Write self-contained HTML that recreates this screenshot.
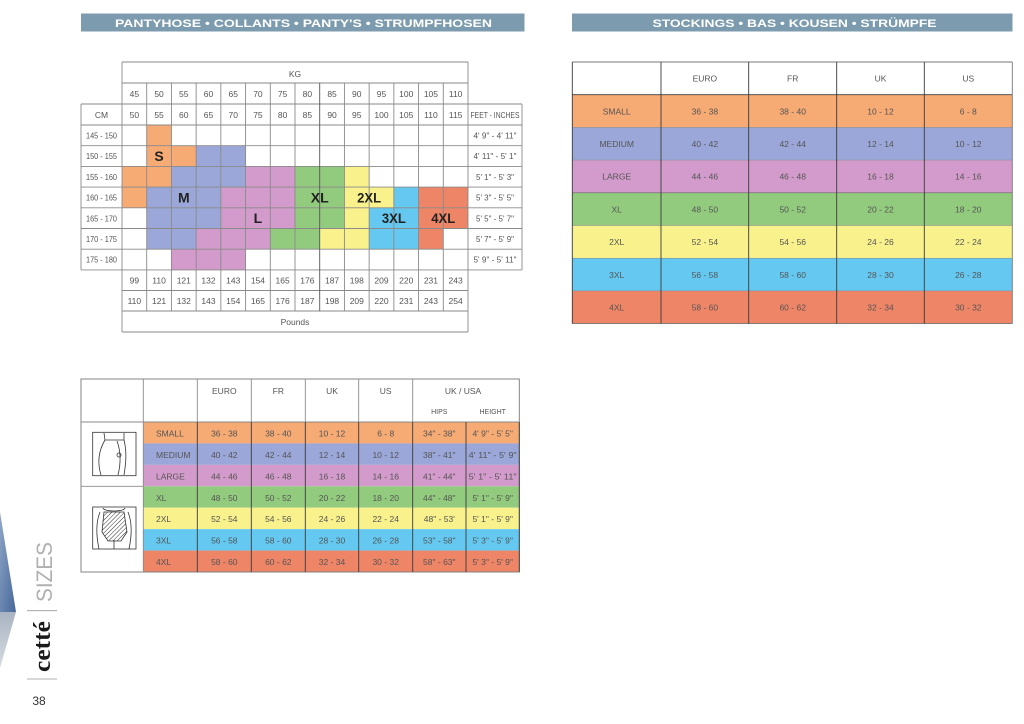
<!DOCTYPE html>
<html><head><meta charset="utf-8"><style>
html,body{margin:0;padding:0;background:#fff;}
svg{display:block;}
text{font-family:"Liberation Sans Narrow","Liberation Sans",sans-serif;fill:#555;font-size:8.5px;}
.c{text-anchor:middle;}
.hd{font-family:"Liberation Sans",sans-serif;font-weight:bold;fill:#fff;font-size:11px;text-anchor:middle;}
.big{font-family:"Liberation Sans Narrow","Liberation Sans",sans-serif;font-weight:bold;fill:#222;font-size:14px;text-anchor:middle;}
.g line{stroke:#8a8a8a;stroke-width:0.9;}
.d line{stroke:#3a3a3a;stroke-width:0.9;}
</style></head><body>
<svg width="1024" height="724" viewBox="0 0 1024 724" xmlns="http://www.w3.org/2000/svg">
<defs>
<linearGradient id="bl" x1="0" y1="0" x2="1" y2="1"><stop offset="0" stop-color="#8fa6c6"/><stop offset="1" stop-color="#46679a"/></linearGradient>
<linearGradient id="gr" x1="0" y1="0" x2="0" y2="1"><stop offset="0" stop-color="#a9b4c2"/><stop offset="1" stop-color="#d6dbe2"/></linearGradient>
<pattern id="hatch" width="3" height="3" patternUnits="userSpaceOnUse" patternTransform="rotate(45)"><line x1="0" y1="0" x2="0" y2="3" stroke="#333" stroke-width="1"/></pattern>
</defs>

<rect x="81" y="13.5" width="443.5" height="18" fill="#7C9BAE"/>
<text class="hd" x="303.5" y="27" textLength="377" lengthAdjust="spacingAndGlyphs">PANTYHOSE • COLLANTS • PANTY'S  • STRUMPFHOSEN</text>
<rect x="572" y="13.5" width="440.5" height="18" fill="#7C9BAE"/>
<text class="hd" x="794.5" y="27" textLength="284" lengthAdjust="spacingAndGlyphs">STOCKINGS • BAS • KOUSEN • STRÜMPFE</text>

<g>
<rect x="146.71" y="125" width="24.71" height="20.7" fill="#F6AA74"/>
<rect x="146.71" y="145.7" width="49.43" height="20.7" fill="#F6AA74"/>
<rect x="196.14" y="145.7" width="49.43" height="20.7" fill="#9AA7D8"/>
<rect x="122" y="166.4" width="49.43" height="20.7" fill="#F6AA74"/>
<rect x="171.43" y="166.4" width="74.14" height="20.7" fill="#9AA7D8"/>
<rect x="245.57" y="166.4" width="49.43" height="20.7" fill="#D39BCB"/>
<rect x="295" y="166.4" width="49.43" height="20.7" fill="#93CB7E"/>
<rect x="344.43" y="166.4" width="24.71" height="20.7" fill="#F8F18C"/>
<rect x="122" y="187.1" width="24.71" height="20.7" fill="#F6AA74"/>
<rect x="146.71" y="187.1" width="74.14" height="20.7" fill="#9AA7D8"/>
<rect x="220.86" y="187.1" width="74.14" height="20.7" fill="#D39BCB"/>
<rect x="295" y="187.1" width="49.43" height="20.7" fill="#93CB7E"/>
<rect x="344.43" y="187.1" width="49.43" height="20.7" fill="#F8F18C"/>
<rect x="393.86" y="187.1" width="24.71" height="20.7" fill="#64C8F0"/>
<rect x="418.57" y="187.1" width="49.43" height="20.7" fill="#EE8567"/>
<rect x="146.71" y="207.8" width="74.14" height="20.7" fill="#9AA7D8"/>
<rect x="220.86" y="207.8" width="74.14" height="20.7" fill="#D39BCB"/>
<rect x="295" y="207.8" width="49.43" height="20.7" fill="#93CB7E"/>
<rect x="344.43" y="207.8" width="24.71" height="20.7" fill="#F8F18C"/>
<rect x="369.14" y="207.8" width="49.43" height="20.7" fill="#64C8F0"/>
<rect x="418.57" y="207.8" width="49.43" height="20.7" fill="#EE8567"/>
<rect x="146.71" y="228.5" width="49.43" height="20.7" fill="#9AA7D8"/>
<rect x="196.14" y="228.5" width="74.14" height="20.7" fill="#D39BCB"/>
<rect x="270.29" y="228.5" width="49.43" height="20.7" fill="#93CB7E"/>
<rect x="319.71" y="228.5" width="49.43" height="20.7" fill="#F8F18C"/>
<rect x="369.14" y="228.5" width="49.43" height="20.7" fill="#64C8F0"/>
<rect x="418.57" y="228.5" width="24.71" height="20.7" fill="#EE8567"/>
<rect x="171.43" y="249.2" width="74.14" height="20.7" fill="#D39BCB"/>
</g>

<g class="g">
<line x1="122" y1="62" x2="468" y2="62"/>
<line x1="122" y1="83" x2="468" y2="83"/>
<line x1="81" y1="104" x2="522" y2="104"/>
<line x1="81" y1="125" x2="522" y2="125"/>
<line x1="81" y1="145.7" x2="522" y2="145.7"/>
<line x1="81" y1="166.4" x2="522" y2="166.4"/>
<line x1="81" y1="187.1" x2="522" y2="187.1"/>
<line x1="81" y1="207.8" x2="522" y2="207.8"/>
<line x1="81" y1="228.5" x2="522" y2="228.5"/>
<line x1="81" y1="249.2" x2="522" y2="249.2"/>
<line x1="81" y1="269.9" x2="522" y2="269.9"/>
<line x1="122" y1="290.5" x2="468" y2="290.5"/>
<line x1="122" y1="311" x2="468" y2="311"/>
<line x1="122" y1="332" x2="468" y2="332"/>
<line x1="81" y1="104" x2="81" y2="269.9"/>
<line x1="522" y1="104" x2="522" y2="269.9"/>
<line x1="122" y1="62" x2="122" y2="332"/>
<line x1="468" y1="62" x2="468" y2="332"/>
<line x1="146.71" y1="83" x2="146.71" y2="311"/>
<line x1="171.43" y1="83" x2="171.43" y2="311"/>
<line x1="196.14" y1="83" x2="196.14" y2="311"/>
<line x1="220.86" y1="83" x2="220.86" y2="311"/>
<line x1="245.57" y1="83" x2="245.57" y2="311"/>
<line x1="270.29" y1="83" x2="270.29" y2="311"/>
<line x1="295" y1="83" x2="295" y2="311"/>
<line x1="319.71" y1="83" x2="319.71" y2="311" style="stroke:#555"/>
<line x1="344.43" y1="83" x2="344.43" y2="311"/>
<line x1="369.14" y1="83" x2="369.14" y2="311"/>
<line x1="393.86" y1="83" x2="393.86" y2="311"/>
<line x1="418.57" y1="83" x2="418.57" y2="311"/>
<line x1="443.29" y1="83" x2="443.29" y2="311"/>
</g>

<g>
<text class="c" x="295" y="77">KG</text>
<text class="c" x="134.36" y="97">45</text><text class="c" x="159.07" y="97">50</text><text class="c" x="183.79" y="97">55</text><text class="c" x="208.5" y="97">60</text><text class="c" x="233.21" y="97">65</text><text class="c" x="257.93" y="97">70</text><text class="c" x="282.64" y="97">75</text><text class="c" x="307.36" y="97">80</text><text class="c" x="332.07" y="97">85</text><text class="c" x="356.79" y="97">90</text><text class="c" x="381.5" y="97">95</text><text class="c" x="406.21" y="97">100</text><text class="c" x="430.93" y="97">105</text><text class="c" x="455.64" y="97">110</text>
<text class="c" x="101.5" y="118">CM</text>
<text class="c" x="134.36" y="118">50</text><text class="c" x="159.07" y="118">55</text><text class="c" x="183.79" y="118">60</text><text class="c" x="208.5" y="118">65</text><text class="c" x="233.21" y="118">70</text><text class="c" x="257.93" y="118">75</text><text class="c" x="282.64" y="118">80</text><text class="c" x="307.36" y="118">85</text><text class="c" x="332.07" y="118">90</text><text class="c" x="356.79" y="118">95</text><text class="c" x="381.5" y="118">100</text><text class="c" x="406.21" y="118">105</text><text class="c" x="430.93" y="118">110</text><text class="c" x="455.64" y="118">115</text>
<text class="c" x="495" y="118" textLength="49" lengthAdjust="spacingAndGlyphs">FEET - INCHES</text>

<text class="c" x="101.5" y="138.5" textLength="31" lengthAdjust="spacingAndGlyphs">145 - 150</text>
<text class="c" x="101.5" y="159.2" textLength="31" lengthAdjust="spacingAndGlyphs">150 - 155</text>
<text class="c" x="101.5" y="179.9" textLength="31" lengthAdjust="spacingAndGlyphs">155 - 160</text>
<text class="c" x="101.5" y="200.6" textLength="31" lengthAdjust="spacingAndGlyphs">160 - 165</text>
<text class="c" x="101.5" y="221.3" textLength="31" lengthAdjust="spacingAndGlyphs">165 - 170</text>
<text class="c" x="101.5" y="242" textLength="31" lengthAdjust="spacingAndGlyphs">170 - 175</text>
<text class="c" x="101.5" y="262.7" textLength="31" lengthAdjust="spacingAndGlyphs">175 - 180</text>

<text class="c" x="495" y="138.5" textLength="43" lengthAdjust="spacingAndGlyphs">4' 9" - 4' 11"</text>
<text class="c" x="495" y="159.2" textLength="43" lengthAdjust="spacingAndGlyphs">4' 11" - 5' 1"</text>
<text class="c" x="495" y="179.9" textLength="38" lengthAdjust="spacingAndGlyphs">5' 1" - 5' 3"</text>
<text class="c" x="495" y="200.6" textLength="38" lengthAdjust="spacingAndGlyphs">5' 3" - 5' 5"</text>
<text class="c" x="495" y="221.3" textLength="38" lengthAdjust="spacingAndGlyphs">5' 5" - 5' 7"</text>
<text class="c" x="495" y="242" textLength="38" lengthAdjust="spacingAndGlyphs">5' 7" - 5' 9"</text>
<text class="c" x="495" y="262.7" textLength="43" lengthAdjust="spacingAndGlyphs">5' 9" - 5' 11"</text>

<text class="c" x="134.36" y="283.5">99</text><text class="c" x="159.07" y="283.5">110</text><text class="c" x="183.79" y="283.5">121</text><text class="c" x="208.5" y="283.5">132</text><text class="c" x="233.21" y="283.5">143</text><text class="c" x="257.93" y="283.5">154</text><text class="c" x="282.64" y="283.5">165</text><text class="c" x="307.36" y="283.5">176</text><text class="c" x="332.07" y="283.5">187</text><text class="c" x="356.79" y="283.5">198</text><text class="c" x="381.5" y="283.5">209</text><text class="c" x="406.21" y="283.5">220</text><text class="c" x="430.93" y="283.5">231</text><text class="c" x="455.64" y="283.5">243</text>
<text class="c" x="134.36" y="304">110</text><text class="c" x="159.07" y="304">121</text><text class="c" x="183.79" y="304">132</text><text class="c" x="208.5" y="304">143</text><text class="c" x="233.21" y="304">154</text><text class="c" x="257.93" y="304">165</text><text class="c" x="282.64" y="304">176</text><text class="c" x="307.36" y="304">187</text><text class="c" x="332.07" y="304">198</text><text class="c" x="356.79" y="304">209</text><text class="c" x="381.5" y="304">220</text><text class="c" x="406.21" y="304">231</text><text class="c" x="430.93" y="304">243</text><text class="c" x="455.64" y="304">254</text>
<text class="c" x="295" y="325">Pounds</text>
</g>

<text class="big" x="159.07" y="161">S</text>
<text class="big" x="183.79" y="202.5">M</text>
<text class="big" x="319.71" y="202.5">XL</text>
<text class="big" x="369.14" y="202.5" textLength="24" lengthAdjust="spacingAndGlyphs">2XL</text>
<text class="big" x="257.93" y="223">L</text>
<text class="big" x="393.86" y="223" textLength="24" lengthAdjust="spacingAndGlyphs">3XL</text>
<text class="big" x="443.29" y="223" textLength="24" lengthAdjust="spacingAndGlyphs">4XL</text>

<g>
<rect x="143.3" y="422" width="376" height="21.43" fill="#F6AA74"/>
<rect x="143.3" y="443.43" width="376" height="21.43" fill="#9AA7D8"/>
<rect x="143.3" y="464.86" width="376" height="21.43" fill="#D39BCB"/>
<rect x="143.3" y="486.29" width="376" height="21.43" fill="#93CB7E"/>
<rect x="143.3" y="507.71" width="376" height="21.43" fill="#F8F18C"/>
<rect x="143.3" y="529.14" width="376" height="21.43" fill="#64C8F0"/>
<rect x="143.3" y="550.57" width="376" height="21.43" fill="#EE8567"/>
</g>
<g class="g">
<rect x="81" y="379" width="438.3" height="193" fill="none" stroke="#777" stroke-width="0.9"/>
<line x1="81" y1="422" x2="519.3" y2="422"/>
<line x1="81" y1="486.29" x2="143.3" y2="486.29"/>
<line x1="143.3" y1="379" x2="143.3" y2="572"/>
<line x1="197.3" y1="379" x2="197.3" y2="422"/>
<line x1="251.3" y1="379" x2="251.3" y2="422"/>
<line x1="305.3" y1="379" x2="305.3" y2="422"/>
<line x1="358.7" y1="379" x2="358.7" y2="422"/>
<line x1="412.7" y1="379" x2="412.7" y2="422"/>
</g>
<g class="d">
<line x1="197.3" y1="422" x2="197.3" y2="572"/>
<line x1="251.3" y1="422" x2="251.3" y2="572"/>
<line x1="305.3" y1="422" x2="305.3" y2="572"/>
<line x1="358.7" y1="422" x2="358.7" y2="572"/>
<line x1="412.7" y1="422" x2="412.7" y2="572"/>
<line x1="466" y1="422" x2="466" y2="572"/>
<line x1="519.3" y1="422" x2="519.3" y2="572"/>
</g>
<g>
<text class="c" x="224.3" y="394">EURO</text>
<text class="c" x="278.3" y="394">FR</text>
<text class="c" x="332" y="394">UK</text>
<text class="c" x="385.7" y="394">US</text>
<text class="c" x="463" y="394">UK / USA</text>
<text class="c" x="439.3" y="414" style="font-size:7px">HIPS</text>
<text class="c" x="492.7" y="414" style="font-size:7px">HEIGHT</text>
</g>
<g>
<text x="156" y="436.5">SMALL</text><text class="c" x="224.3" y="436.5">36 - 38</text><text class="c" x="278.3" y="436.5">38 - 40</text><text class="c" x="332" y="436.5">10 - 12</text><text class="c" x="385.7" y="436.5">6 - 8</text><text class="c" x="439.3" y="436.5">34" - 38"</text><text class="c" x="492.7" y="436.5">4' 9" - 5' 5"</text>
<text x="156" y="457.9">MEDIUM</text><text class="c" x="224.3" y="457.9">40 - 42</text><text class="c" x="278.3" y="457.9">42 - 44</text><text class="c" x="332" y="457.9">12 - 14</text><text class="c" x="385.7" y="457.9">10 - 12</text><text class="c" x="439.3" y="457.9">38" - 41"</text><text class="c" x="492.7" y="457.9" textLength="48" lengthAdjust="spacingAndGlyphs">4' 11" - 5' 9"</text>
<text x="156" y="479.4">LARGE</text><text class="c" x="224.3" y="479.4">44 - 46</text><text class="c" x="278.3" y="479.4">46 - 48</text><text class="c" x="332" y="479.4">16 - 18</text><text class="c" x="385.7" y="479.4">14 - 16</text><text class="c" x="439.3" y="479.4">41" - 44"</text><text class="c" x="492.7" y="479.4" textLength="48" lengthAdjust="spacingAndGlyphs">5' 1" - 5' 11"</text>
<text x="156" y="500.8">XL</text><text class="c" x="224.3" y="500.8">48 - 50</text><text class="c" x="278.3" y="500.8">50 - 52</text><text class="c" x="332" y="500.8">20 - 22</text><text class="c" x="385.7" y="500.8">18 - 20</text><text class="c" x="439.3" y="500.8">44" - 48"</text><text class="c" x="492.7" y="500.8">5' 1" - 5' 9"</text>
<text x="156" y="522.2">2XL</text><text class="c" x="224.3" y="522.2">52 - 54</text><text class="c" x="278.3" y="522.2">54 - 56</text><text class="c" x="332" y="522.2">24 - 26</text><text class="c" x="385.7" y="522.2">22 - 24</text><text class="c" x="439.3" y="522.2">48" - 53'</text><text class="c" x="492.7" y="522.2">5' 1" - 5' 9"</text>
<text x="156" y="543.7">3XL</text><text class="c" x="224.3" y="543.7">56 - 58</text><text class="c" x="278.3" y="543.7">58 - 60</text><text class="c" x="332" y="543.7">28 - 30</text><text class="c" x="385.7" y="543.7">26 - 28</text><text class="c" x="439.3" y="543.7">53" - 58"</text><text class="c" x="492.7" y="543.7">5' 3" - 5' 9"</text>
<text x="156" y="565.1">4XL</text><text class="c" x="224.3" y="565.1">58 - 60</text><text class="c" x="278.3" y="565.1">60 - 62</text><text class="c" x="332" y="565.1">32 - 34</text><text class="c" x="385.7" y="565.1">30 - 32</text><text class="c" x="439.3" y="565.1">58" - 63"</text><text class="c" x="492.7" y="565.1">5' 3" - 5' 9"</text>
</g>

<g fill="none" stroke="#333" stroke-width="0.8">
<rect x="92.7" y="432.3" width="43.3" height="43.4"/>
<path d="M104 433 L105 440 L124 440 L124 433"/>
<path d="M105 440 C99 450, 97 462, 101 475"/>
<path d="M117 441 C121 452, 121 463, 118 475"/>
<path d="M124 440 C127 452, 126 463, 124 475"/>
<circle cx="119" cy="455" r="2"/>
<rect x="92.7" y="507" width="43.3" height="42"/>
<path d="M103 508 C104 512, 124 512, 125 508"/>
<path d="M100 512 C96 522, 96 535, 99 549"/>
<path d="M128 512 C132 522, 132 535, 129 549"/>
<path d="M114 540 L114 549"/>
<path d="M104 512 L124 512 L127 532 L121 541 L108 541 L102 532 Z" fill="url(#hatch)"/>
</g>

<g>
<rect x="572.3" y="94.7" width="440" height="32.7" fill="#F6AA74"/>
<rect x="572.3" y="127.4" width="440" height="32.7" fill="#9AA7D8"/>
<rect x="572.3" y="160.1" width="440" height="32.7" fill="#D39BCB"/>
<rect x="572.3" y="192.8" width="440" height="32.7" fill="#93CB7E"/>
<rect x="572.3" y="225.5" width="440" height="32.7" fill="#F8F18C"/>
<rect x="572.3" y="258.2" width="440" height="32.7" fill="#64C8F0"/>
<rect x="572.3" y="290.9" width="440" height="32.7" fill="#EE8567"/>
</g>
<g class="d">
<line x1="572.3" y1="62" x2="1012.3" y2="62" style="stroke:#777"/>
<line x1="572.3" y1="94.7" x2="1012.3" y2="94.7"/>
<line x1="572.3" y1="127.4" x2="1012.3" y2="127.4" style="stroke:#888;stroke-width:0.5"/>
<line x1="572.3" y1="160.1" x2="1012.3" y2="160.1" style="stroke:#888;stroke-width:0.5"/>
<line x1="572.3" y1="192.8" x2="1012.3" y2="192.8" style="stroke:#666;stroke-width:0.6"/>
<line x1="572.3" y1="225.5" x2="1012.3" y2="225.5" style="stroke:#888;stroke-width:0.5"/>
<line x1="572.3" y1="258.2" x2="1012.3" y2="258.2" style="stroke:#888;stroke-width:0.5"/>
<line x1="572.3" y1="290.9" x2="1012.3" y2="290.9" style="stroke:#888;stroke-width:0.5"/>
<line x1="572.3" y1="323.6" x2="1012.3" y2="323.6" style="stroke:#777"/>
<line x1="572.3" y1="62" x2="572.3" y2="323.6"/>
<line x1="661" y1="62" x2="661" y2="323.6"/>
<line x1="748.7" y1="62" x2="748.7" y2="323.6"/>
<line x1="836.7" y1="62" x2="836.7" y2="323.6"/>
<line x1="924.3" y1="62" x2="924.3" y2="323.6"/>
<line x1="1012.3" y1="62" x2="1012.3" y2="323.6" style="stroke:#777"/>
</g>
<g>
<text class="c" x="704.9" y="81.5">EURO</text><text class="c" x="792.7" y="81.5">FR</text><text class="c" x="880.5" y="81.5">UK</text><text class="c" x="968.3" y="81.5">US</text>
<text class="c" x="616.7" y="114.3">SMALL</text><text class="c" x="704.9" y="114.3">36 - 38</text><text class="c" x="792.7" y="114.3">38 - 40</text><text class="c" x="880.5" y="114.3">10 - 12</text><text class="c" x="968.3" y="114.3">6 - 8</text>
<text class="c" x="616.7" y="147">MEDIUM</text><text class="c" x="704.9" y="147">40 - 42</text><text class="c" x="792.7" y="147">42 - 44</text><text class="c" x="880.5" y="147">12 - 14</text><text class="c" x="968.3" y="147">10 - 12</text>
<text class="c" x="616.7" y="179.7">LARGE</text><text class="c" x="704.9" y="179.7">44 - 46</text><text class="c" x="792.7" y="179.7">46 - 48</text><text class="c" x="880.5" y="179.7">16 - 18</text><text class="c" x="968.3" y="179.7">14 - 16</text>
<text class="c" x="616.7" y="212.4">XL</text><text class="c" x="704.9" y="212.4">48 - 50</text><text class="c" x="792.7" y="212.4">50 - 52</text><text class="c" x="880.5" y="212.4">20 - 22</text><text class="c" x="968.3" y="212.4">18 - 20</text>
<text class="c" x="616.7" y="245.1">2XL</text><text class="c" x="704.9" y="245.1">52 - 54</text><text class="c" x="792.7" y="245.1">54 - 56</text><text class="c" x="880.5" y="245.1">24 - 26</text><text class="c" x="968.3" y="245.1">22 - 24</text>
<text class="c" x="616.7" y="277.8">3XL</text><text class="c" x="704.9" y="277.8">56 - 58</text><text class="c" x="792.7" y="277.8">58 - 60</text><text class="c" x="880.5" y="277.8">28 - 30</text><text class="c" x="968.3" y="277.8">26 - 28</text>
<text class="c" x="616.7" y="310.5">4XL</text><text class="c" x="704.9" y="310.5">58 - 60</text><text class="c" x="792.7" y="310.5">60 - 62</text><text class="c" x="880.5" y="310.5">32 - 34</text><text class="c" x="968.3" y="310.5">30 - 32</text>
</g>

<polygon points="0,512 16,612 0,612" fill="url(#bl)"/>
<polygon points="0,612 16,612 0,668" fill="url(#gr)"/>
<text transform="translate(52,602) rotate(-90)" style="font-family:'Liberation Sans',sans-serif;font-size:22px;fill:#b0b0b0;" textLength="60" lengthAdjust="spacingAndGlyphs">SIZES</text>
<line x1="27" y1="610.7" x2="57" y2="610.7" stroke="#999" stroke-width="0.8"/>
<text transform="translate(50,672) rotate(-90)" style="font-family:'Liberation Serif',serif;font-weight:bold;font-size:24px;fill:#1a1a1a;" textLength="51" lengthAdjust="spacingAndGlyphs">cetté</text>
<line x1="27" y1="679" x2="57" y2="679" stroke="#999" stroke-width="0.8"/>
<text x="39" y="705" style="font-family:'Liberation Sans',sans-serif;font-size:12px;fill:#333;text-anchor:middle;">38</text>
</svg>
</body></html>
